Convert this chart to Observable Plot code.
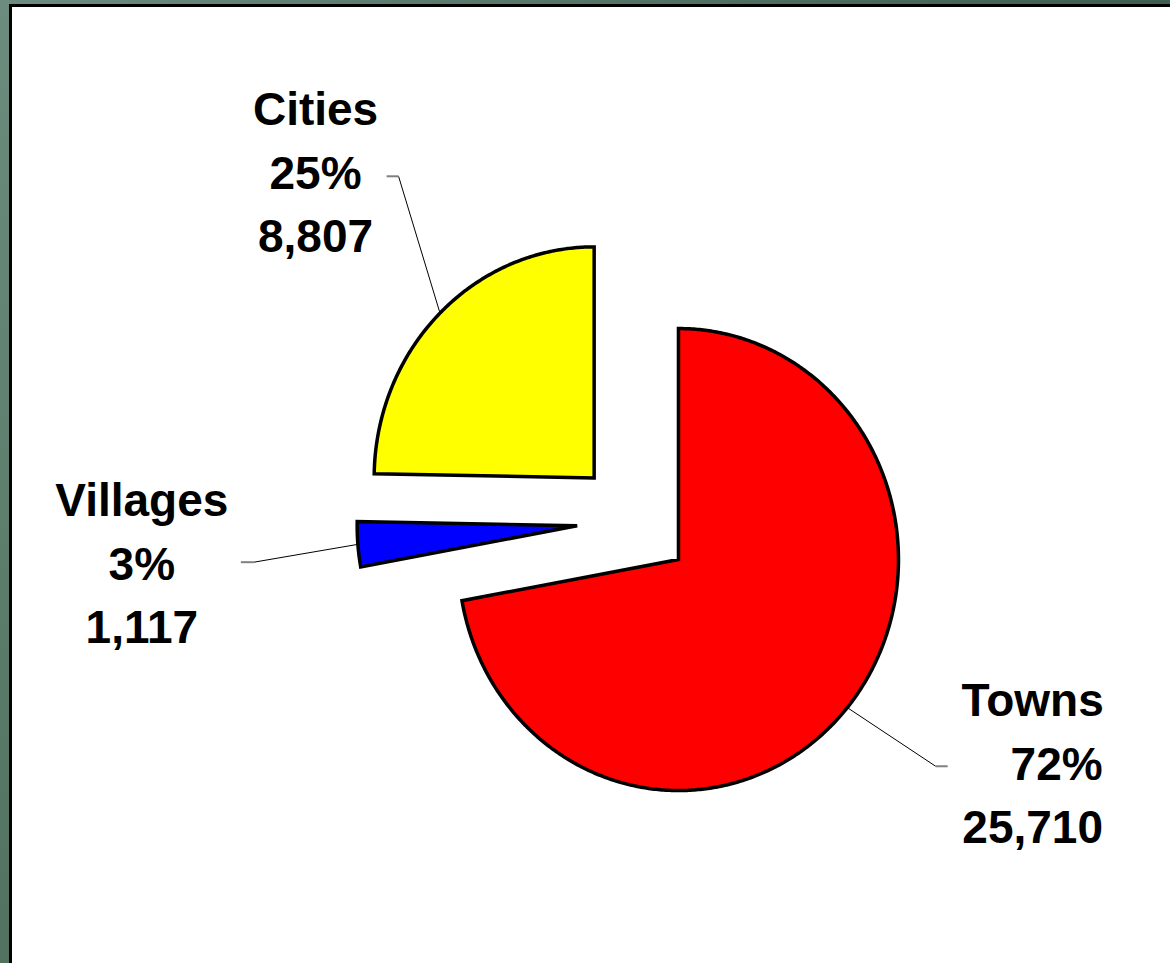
<!DOCTYPE html>
<html>
<head>
<meta charset="utf-8">
<script src="https://cdn.jsdelivr.net/npm/d3@7"></script>
<script src="https://cdn.jsdelivr.net/npm/@observablehq/plot@0.6"></script>
<style>
  html, body { margin: 0; padding: 0; overflow: hidden; background: #fff; width: 1170px; height: 963px; }
  #stage { position: relative; width: 1170px; height: 963px; background: #fff; }
  #frameLeft { position: absolute; left: 0; top: 0; width: 9px; height: 963px; background: linear-gradient(#6b8c7e, #52725f); }
  #frameTop { position: absolute; left: 0; top: 0; width: 1170px; height: 4px; background: linear-gradient(90deg, #6b8c7e, #3e5e50); }
  #lineLeft { position: absolute; left: 9px; top: 4px; width: 3px; height: 959px; background: #000; }
  #lineTop { position: absolute; left: 9px; top: 4px; width: 1161px; height: 3px; background: #000; }
  #chart { position: absolute; left: 0; top: 0; }
</style>
</head>
<body>
<div id="stage">
  <div id="frameLeft"></div>
  <div id="frameTop"></div>
  <div id="lineLeft"></div>
  <div id="lineTop"></div>
  <div id="chart"></div>
</div>
<script>
// ---- data ----
const categories = ["Towns", "Villages", "Cities"];
const values = [25710, 1117, 8807];
const sliceColors = ["#ff0000", "#0000ff", "#ffff00"];

// ---- layout (not data) ----
const kx = 220, ky = 231;          // px per unit radius (slightly elliptical pie)
const cx = 633.9, cy = 520.4;      // pie centre in px
const explode = 0.261;             // explosion distance, in radius units
const rowGap = 63.5;               // label line spacing, px
const labelLayout = {
  Cities:   {angle: 324.3, radius: 1.837, tick: -12, dx: -83,  dy0: -51, pctShift: 0},
  Villages: {angle: 264.1, radius: 1.739, tick: -13, dx: -112, dy0: -46, pctShift: 0},
  Towns:    {angle: 127.8, radius: 1.733, tick: 12,  dx: 97,   dy0: -50, pctShift: 24}
};
const rowSpacing = ["0.8px", "1px", "2.9px"]; // letter spacing: name, percent, value

const total = d3.sum(values);
const pctFmt = d3.format(".0%");
const numFmt = d3.format(",");
const arcs = d3.pie().sort(null).value(d => d)(values);

// slice polygons (unit coordinates, y downward)
const slices = arcs.map((a, i) => {
  const mid = (a.startAngle + a.endAngle) / 2;
  const ox = explode * Math.sin(mid), oy = -explode * Math.cos(mid);
  const n = Math.max(4, Math.ceil((a.endAngle - a.startAngle) / (Math.PI / 360)));
  const pts = [{x: ox, y: oy}];
  for (let k = 0; k <= n; k++) {
    const t = a.startAngle + (a.endAngle - a.startAngle) * k / n;
    pts.push({x: ox + Math.sin(t), y: oy - Math.cos(t)});
  }
  return {name: categories[i], color: sliceColors[i], mid, ox, oy, pts};
});

// leader lines
const leaders = slices.map(s => {
  const L = labelLayout[s.name];
  const th = L.angle * Math.PI / 180;
  const ax = L.radius * Math.sin(th), ay = -L.radius * Math.cos(th);
  return {
    sx: s.ox + Math.sin(s.mid), sy: s.oy - Math.cos(s.mid),
    ax, ay, tx: ax + L.tick / kx
  };
});

// label rows
const labelRows = [];
slices.forEach((s, i) => {
  const L = labelLayout[s.name];
  const ld = leaders[i];
  const baseX = ld.ax + L.dx / kx;
  const texts = [categories[i], pctFmt(values[i] / total), numFmt(values[i])];
  texts.forEach((t, r) => {
    labelRows.push({
      text: t, row: r,
      x: baseX + (r === 1 ? L.pctShift / kx : 0),
      y: ld.ay + (L.dy0 + r * rowGap) / ky
    });
  });
});

const textOpts = {
  x: "x", y: "y", text: "text", fontSize: 46, fontWeight: "bold",
  fontFamily: "'Liberation Sans', Arial, sans-serif",
  textAnchor: "middle", lineAnchor: "bottom", fill: "#000"
};

const chart = Plot.plot({
  width: 1170, height: 963, margin: 0,
  style: {background: "transparent", overflow: "visible"},
  x: {domain: [-1, 1], range: [cx - kx, cx + kx], axis: null},
  y: {domain: [-1, 1], range: [cy - ky, cy + ky], axis: null},
  marks: [
    ...slices.map(s => Plot.line(s.pts, {
      x: "x", y: "y", fill: s.color, stroke: "#000", strokeWidth: 3.5,
      curve: "linear-closed", strokeLinejoin: "miter", strokeMiterlimit: 4
    })),
    Plot.link(leaders, {x1: "sx", y1: "sy", x2: "ax", y2: "ay", stroke: "#000", strokeWidth: 1}),
    Plot.link(leaders, {x1: "ax", y1: "ay", x2: "tx", y2: "ay", stroke: "#808080", strokeWidth: 2}),
    Plot.text(labelRows.filter(d => d.row === 0), {...textOpts, ariaLabel: "label-row-0"}),
    Plot.text(labelRows.filter(d => d.row === 1), {...textOpts, ariaLabel: "label-row-1"}),
    Plot.text(labelRows.filter(d => d.row === 2), {...textOpts, ariaLabel: "label-row-2"})
  ]
});
const sel = d3.select(chart);
rowSpacing.forEach((ls, r) => {
  sel.selectAll(`g[aria-label="label-row-${r}"]`).style("letter-spacing", ls);
  sel.selectAll(`g[aria-label="label-row-${r}"] text`).style("letter-spacing", ls);
});
document.getElementById("chart").appendChild(chart);
</script>
</body>
</html>
